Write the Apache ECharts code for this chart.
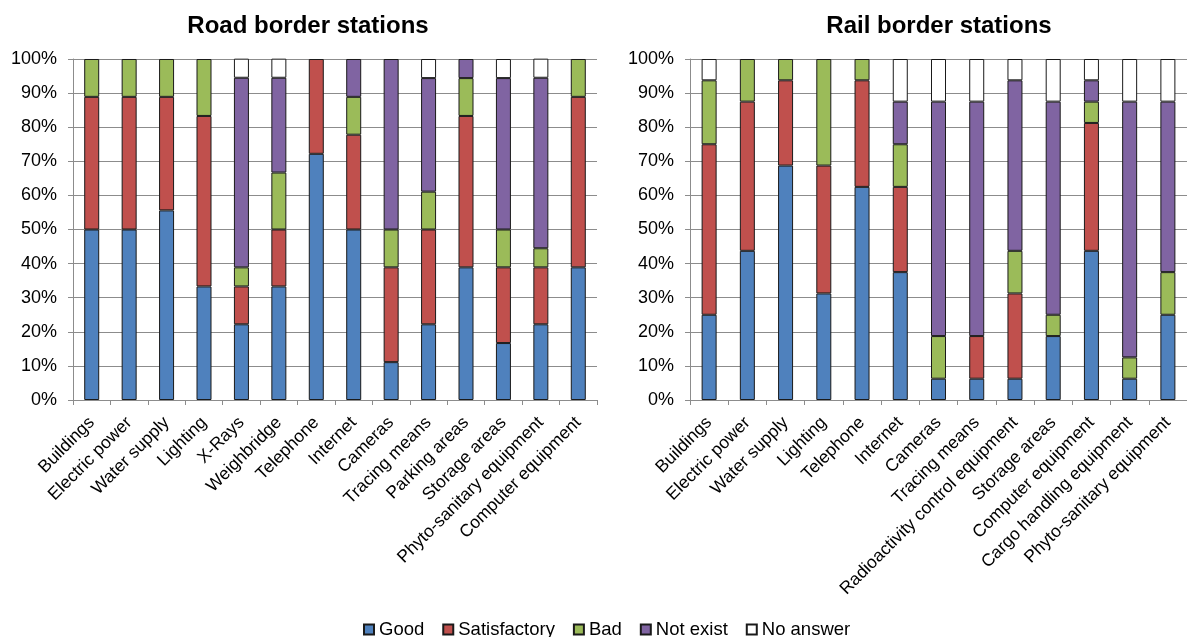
<!DOCTYPE html>
<html>
<head>
<meta charset="utf-8">
<script src="https://cdn.jsdelivr.net/npm/echarts@6/dist/echarts.min.js"></script>
<style>html,body{margin:0;padding:0;background:#fff}#c{width:1187px;height:637px}</style>
</head>
<body>
<div id="c"></div>
<script>
const seriesNames = ['Good', 'Satisfactory', 'Bad', 'Not exist', 'No answer'];
const colors = ['#4F81BD', '#C0504D', '#9BBB59', '#8064A2', '#FFFFFF'];
const yTicks = [0, 10, 20, 30, 40, 50, 60, 70, 80, 90, 100];

const roadCategories = ['Buildings', 'Electric power', 'Water supply', 'Lighting', 'X-Rays', 'Weighbridge', 'Telephone', 'Internet', 'Cameras', 'Tracing means', 'Parking areas', 'Storage areas', 'Phyto-sanitary equipment', 'Computer equipment'];
const roadGood =         [50,   50,   55.6, 33.3, 22.2, 33.3, 72.2, 50,   11.1, 22.2, 38.9, 16.7, 22.2, 38.9];
const roadSatisfactory = [38.9, 38.9, 33.3, 50,   11.1, 16.7, 27.8, 27.8, 27.8, 27.8, 44.4, 22.2, 16.7, 50];
const roadBad =          [11.1, 11.1, 11.1, 16.7, 5.6,  16.7, 0,    11.1, 11.1, 11.1, 11.1, 11.1, 5.6,  11.1];
const roadNotExist =     [0,    0,    0,    0,    55.6, 27.8, 0,    11.1, 50,   33.3, 5.6,  44.4, 50,   0];
const roadNoAnswer =     [0,    0,    0,    0,    5.6,  5.6,  0,    0,    0,    5.6,  0,    5.6,  5.6,  0];

const railCategories = ['Buildings', 'Electric power', 'Water supply', 'Lighting', 'Telephone', 'Internet', 'Cameras', 'Tracing means', 'Radioactivity control equipment', 'Storage areas', 'Computer equipment', 'Cargo handling equipment', 'Phyto-sanitary equipment'];
const railGood =         [25,    43.75, 68.75, 31.25, 62.5,  37.5, 6.25,  6.25,  6.25, 18.75, 43.75, 6.25, 25];
const railSatisfactory = [50,    43.75, 25,    37.5,  31.25, 25,   0,     12.5,  25,   0,     37.5,  0,    0];
const railBad =          [18.75, 12.5,  6.25,  31.25, 6.25,  12.5, 12.5,  0,     12.5, 6.25,  6.25,  6.25, 12.5];
const railNotExist =     [0,     0,     0,     0,     0,     12.5, 68.75, 68.75, 50,   62.5,  6.25,  75,   50];
const railNoAnswer =     [6.25,  0,     0,     0,     0,     12.5, 12.5,  12.5,  6.25, 12.5,  6.25,  12.5, 12.5];

const roadData = [roadGood, roadSatisfactory, roadBad, roadNotExist, roadNoAnswer];
const railData = [railGood, railSatisfactory, railBad, railNotExist, railNoAnswer];

const FONT = '"Liberation Sans", Arial, sans-serif';
const gridColor = '#8c8c8c';

function xAxis(idx, cats) {
  return {
    type: 'category', gridIndex: idx, data: cats, boundaryGap: true,
    axisLine: { lineStyle: { color: gridColor, width: 1 } },
    axisTick: { show: true, length: 5, alignWithLabel: false, lineStyle: { color: gridColor } },
    axisLabel: { rotate: 45, interval: 0, color: '#000', fontSize: 17.5, fontFamily: FONT, margin: 20 }
  };
}
function yAxis(idx) {
  return {
    type: 'value', gridIndex: idx, min: yTicks[0], max: yTicks[yTicks.length - 1], interval: 10,
    axisLine: { show: true, lineStyle: { color: gridColor, width: 1 } },
    axisTick: { show: true, length: 5, lineStyle: { color: gridColor } },
    splitLine: { show: true, lineStyle: { color: gridColor, width: 1 } },
    axisLabel: { formatter: '{value}%', color: '#000', fontSize: 18, fontFamily: FONT, margin: 16 }
  };
}

const series = [];
[roadData, railData].forEach((data, g) => {
  data.forEach((vals, i) => {
    series.push({
      name: seriesNames[i], type: 'bar', stack: 'g' + g,
      xAxisIndex: g, yAxisIndex: g, barWidth: 15,
      data: vals.map(v => v === 0 ? null : v),
      itemStyle: { color: colors[i], borderColor: '#1a1a1a', borderWidth: 1 },
      emphasis: { disabled: true }
    });
  });
});

const chart = echarts.init(document.getElementById('c'), null, { renderer: 'canvas' });
chart.setOption({
  animation: false,
  backgroundColor: '#fff',
  textStyle: { fontFamily: FONT },
  title: [
    { text: 'Road border stations', left: 303, top: 9, textAlign: 'center',
      textStyle: { fontSize: 24, fontWeight: 'bold', color: '#000', fontFamily: FONT } },
    { text: 'Rail border stations', left: 934, top: 9, textAlign: 'center',
      textStyle: { fontSize: 24, fontWeight: 'bold', color: '#000', fontFamily: FONT } }
  ],
  legend: {
    data: seriesNames, top: 615, left: 358,
    itemWidth: 10, itemHeight: 10, itemGap: 18, icon: 'rect',
    textStyle: { fontSize: 18.5, color: '#000', fontFamily: FONT }
  },
  grid: [
    { left: 73, top: 59, width: 524, height: 341 },
    { left: 690, top: 59, width: 498, height: 341 }
  ],
  xAxis: [xAxis(0, roadCategories), xAxis(1, railCategories)],
  yAxis: [yAxis(0), yAxis(1)],
  series: series
});
</script>
</body>
</html>
